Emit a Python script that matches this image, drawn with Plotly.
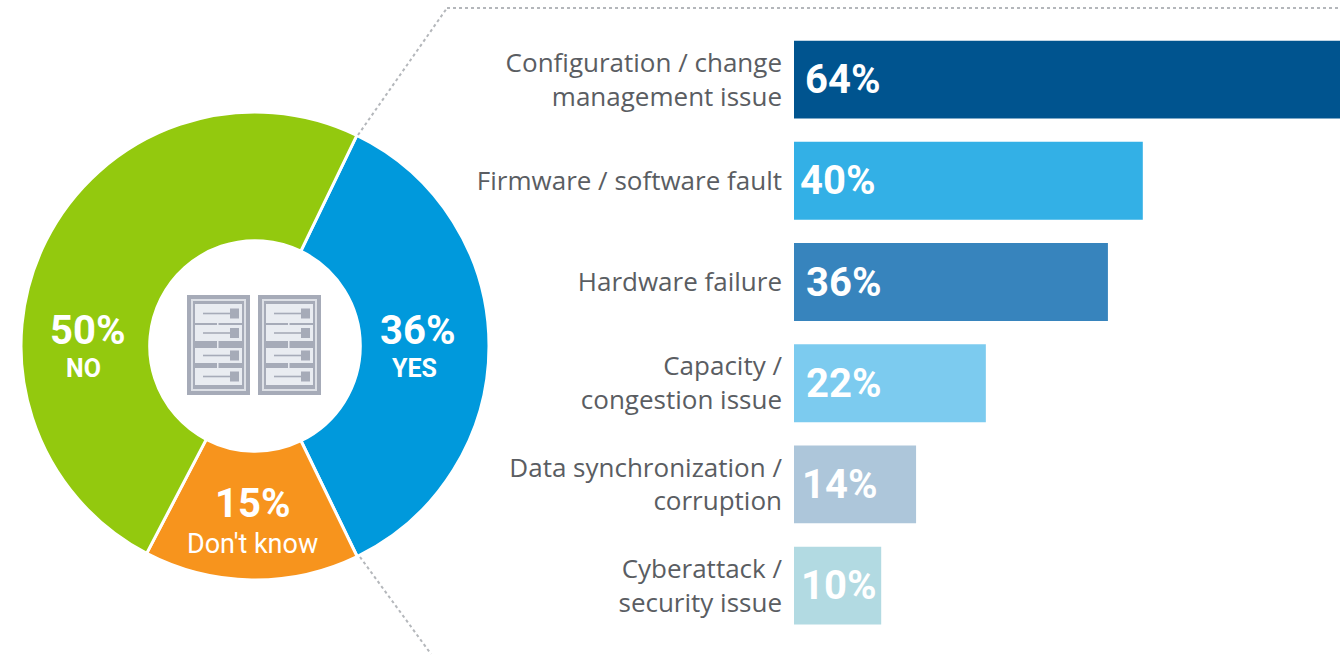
import plotly.graph_objects as go

W, H = 1340, 656

# Data
donut_labels = ["YES", "Don't know", "NO"]
donut_values = [36, 15, 50]
donut_colors = ["#0099dc", "#f7941d", "#93c90e"]

bar_categories = [
    "Configuration / change<br>management issue",
    "Firmware / software fault",
    "Hardware failure",
    "Capacity /<br>congestion issue",
    "Data synchronization /<br>corruption",
    "Cyberattack /<br>security issue",
]
bar_values = [64, 40, 36, 22, 14, 10]
bar_colors = ["#00548f", "#33b0e6", "#3784bd", "#7ccbef", "#adc6da", "#b2dae2"]
bar_text_offsets = [9, 4, 10, 10, 6, 5]

FONT = "Roboto"
TICK_FONT = "Open Sans"
TEXT = "#5a5d62"


def px(x):
    return x / W


def py(y):
    return 1 - y / H


fig = go.Figure()

# Donut
cx, cy, r = 255, 346, 234
fig.add_trace(go.Pie(
    labels=donut_labels,
    values=donut_values,
    sort=False,
    direction="clockwise",
    rotation=25.8,
    hole=0.45,
    marker=dict(colors=donut_colors, line=dict(color="white", width=3)),
    textinfo="none",
    hoverinfo="label+percent",
    showlegend=False,
    domain=dict(x=[px(cx - r), px(cx + r)], y=[py(cy + r), py(cy - r)]),
))

# Bars
step = 101.2
first = 79.6
fig.add_trace(go.Bar(
    y=bar_categories,
    x=bar_values,
    orientation="h",
    width=0.77,
    marker=dict(color=bar_colors, line=dict(width=0)),
    cliponaxis=True,
    showlegend=False,
))

fig.update_layout(
    width=W,
    height=H,
    margin=dict(l=0, r=0, t=0, b=0),
    paper_bgcolor="white",
    plot_bgcolor="white",
    font=dict(family=FONT, color=TEXT),
    xaxis=dict(domain=[px(794), 1], range=[0, (W - 794) / 8.72], visible=False, fixedrange=True),
    yaxis=dict(
        domain=[0, 1],
        type="category",
        categoryorder="array",
        categoryarray=bar_categories,
        range=[(H - first) / step, -first / step],
        showgrid=False,
        showline=False,
        zeroline=False,
        ticks="",
        ticklabelstandoff=11,
        tickfont=dict(family=TICK_FONT, size=26, color=TEXT),
        fixedrange=True,
    ),
)

# Bar value labels
for cat, v, off in zip(bar_categories, bar_values, bar_text_offsets):
    fig.add_annotation(text=f"<b>{v}%</b>", x=0, y=cat, xref="x", yref="y", xanchor="left", yanchor="middle",
                       xshift=off, showarrow=False, font=dict(family=FONT, size=40, color="white"))

# Donut labels
donut_annots = [
    ("<b>36%</b>", 417, 330, 40), ("<b>YES</b>", 414, 368, 25),
    ("<b>15%</b>", 252, 503, 40), ("Don't know", 252, 544, 27),
    ("<b>50%</b>", 87, 330, 40), ("<b>NO</b>", 83, 368, 25),
]
for t, x, y, s in donut_annots:
    fig.add_annotation(text=t, x=px(x), y=py(y), xref="paper", yref="paper", showarrow=False,
                       xanchor="center", yanchor="middle",
                       font=dict(family=FONT, size=s, color="white"))

# Dotted connectors
dot = dict(color="#b4b7bb", width=2, dash="dot")
for (x0, y0, x1, y1) in [(358, 135, 447, 8), (447, 8, 1340, 8), (360, 557, 431, 654)]:
    fig.add_shape(type="line", xref="paper", yref="paper", x0=px(x0), y0=py(y0), x1=px(x1), y1=py(y1), line=dot)


# Server icon
def rect(x0, y0, x1, y1, color):
    fig.add_shape(type="rect", xref="paper", yref="paper", x0=px(x0), y0=py(y0), x1=px(x1), y1=py(y1),
                  fillcolor=color, line=dict(width=0), layer="above")


GREY = "#a6abb8"
LIGHT = "#e9ecf1"
for left in (187, 258):
    rect(left, 295, left + 63, 395, GREY)
    rect(left + 4, 299, left + 59, 391, "#dde0e6")
    rect(left + 6, 301, left + 57, 389, GREY)
    for top, bottom in [(304, 323), (325, 341), (348, 363), (368, 385)]:
        rect(left + 8, top, left + 55, bottom, LIGHT)
        mid = (top + bottom) / 2
        rect(left + 16, mid - 0.8, left + 44, mid + 0.8, GREY)
        rect(left + 43, mid - 5, left + 52, mid + 5, GREY)
    for y0, y1 in [(323, 325), (341, 348), (363, 368)]:
        rect(left + 30, y0, left + 31.5, y1, LIGHT)

fig.write_html("out.html", post_script="document.body.style.margin='0';",
               config={"displayModeBar": False})
